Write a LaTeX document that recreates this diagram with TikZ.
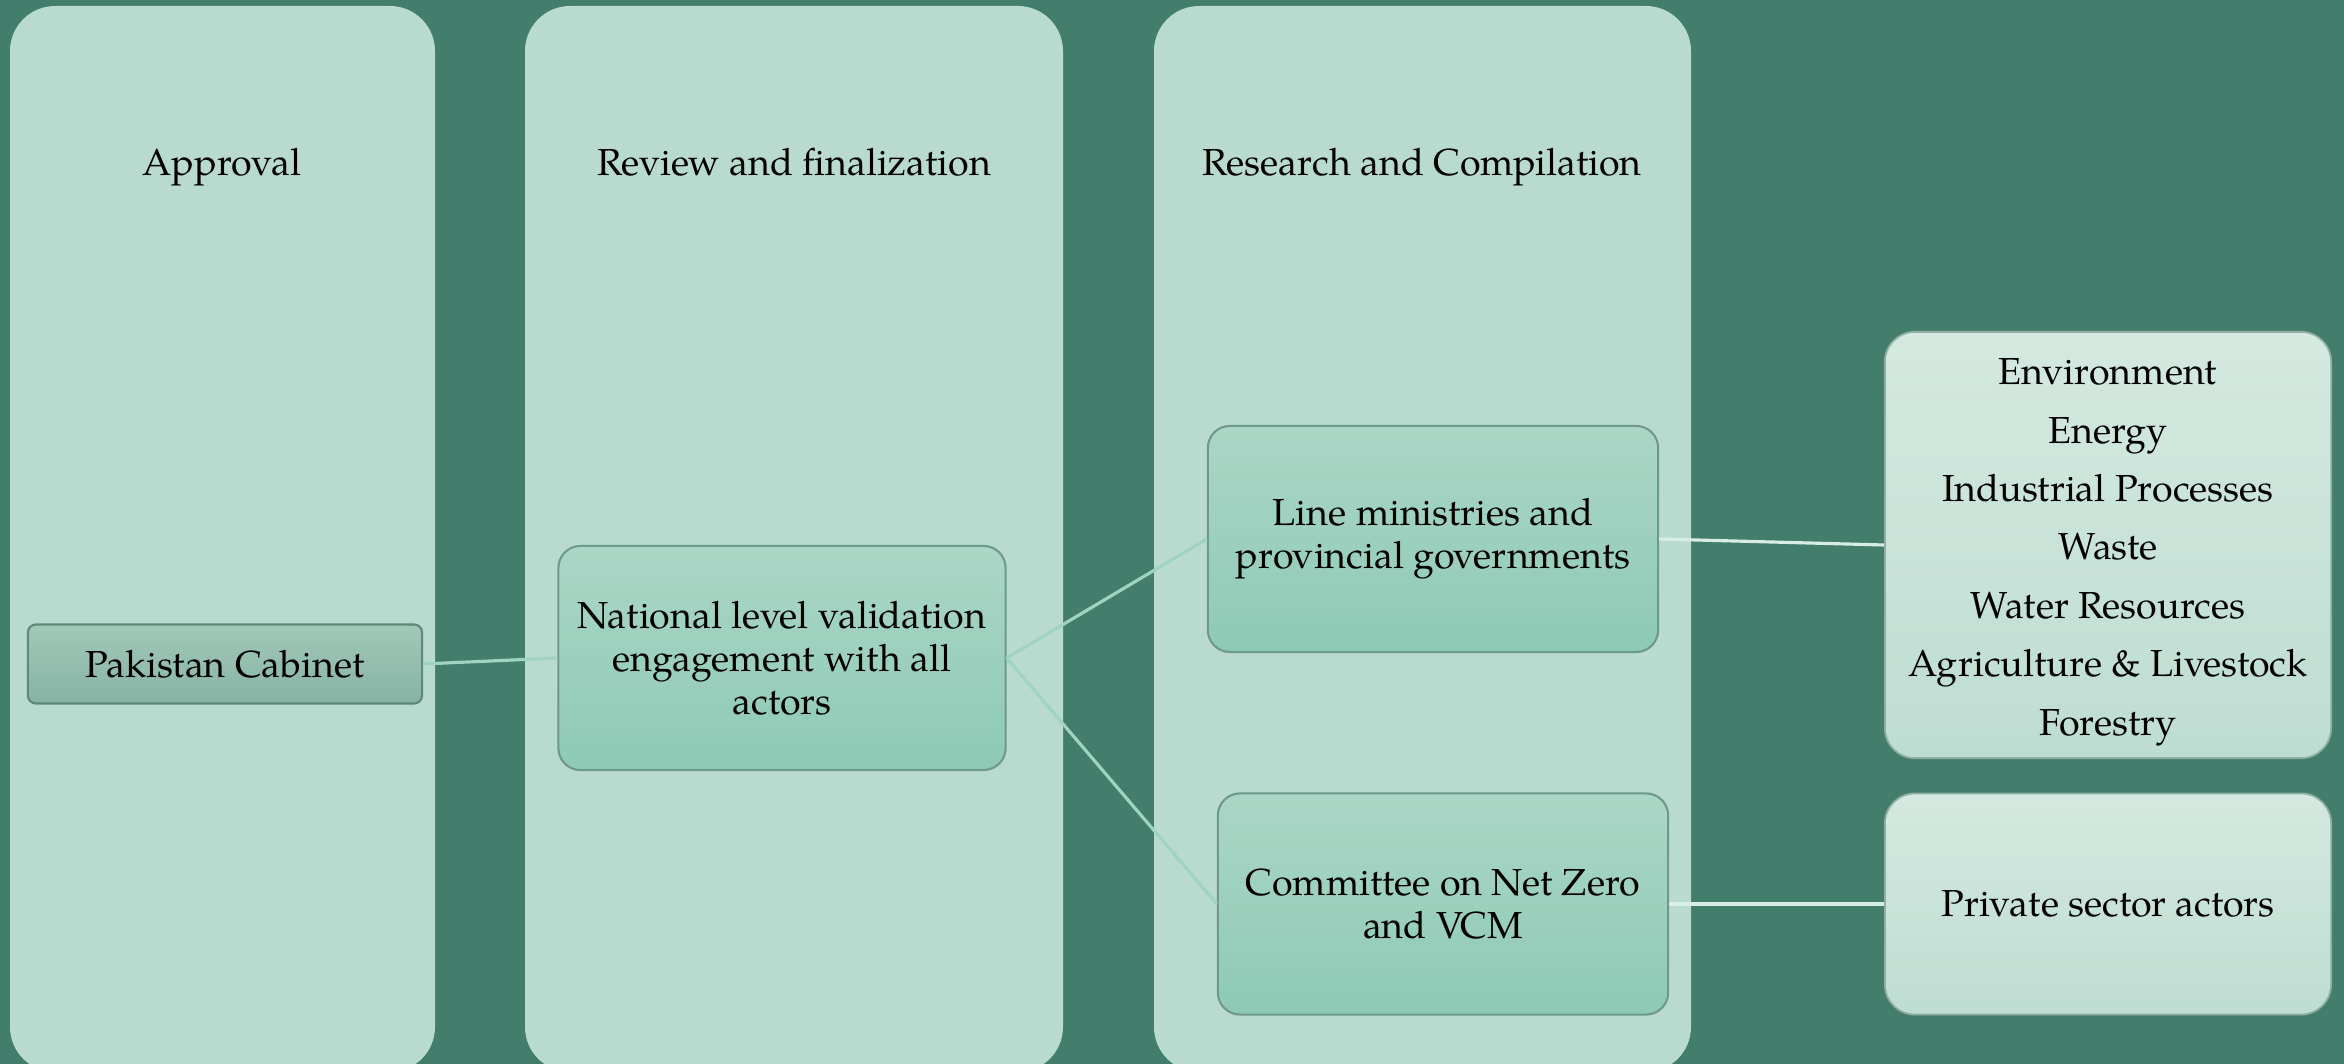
\documentclass[tikz,border=0pt]{standalone}
\usepackage{fontspec}
\setmainfont{TeX Gyre Pagella}
\usetikzlibrary{calc}
\definecolor{bgGreen}{HTML}{437D6C}
\definecolor{stageFill}{HTML}{B9DBCF}
\definecolor{boxTop}{HTML}{ABD6C6}
\definecolor{boxBot}{HTML}{8DCAB5}
\definecolor{boxLine}{HTML}{6F9A8A}
\definecolor{cabTop}{HTML}{A2C8B9}
\definecolor{cabBot}{HTML}{86B3A3}
\definecolor{cabLine}{HTML}{5F8878}
\definecolor{listTop}{HTML}{D4E9E0}
\definecolor{listBot}{HTML}{BEDDD2}
\definecolor{listLine}{HTML}{8FAFA3}
\definecolor{linkGreen}{HTML}{9FD3C2}
\definecolor{linkPale}{HTML}{D8EDE5}
\tikzset{
	stage/.style={fill=stageFill, rounded corners=0.45cm},
	head/.style={anchor=base, font=\fontsize{10.7}{12.3}\selectfont},
	cabbox/.style={draw=cabLine, line width=0.6pt, top color=cabTop, bottom color=cabBot,
		rounded corners=0.08cm, minimum width=3.94cm, minimum height=0.79cm,
		font=\fontsize{10.7}{12.3}\selectfont},
	midbox/.style={draw=boxLine, line width=0.6pt, top color=boxTop, bottom color=boxBot,
		rounded corners=0.22cm, align=center, minimum height=2.24cm,
		font=\fontsize{10.7}{12.3}\selectfont},
	listbox/.style={draw=listLine, line width=0.5pt, top color=listTop, bottom color=listBot,
		rounded corners=0.3cm, align=center, minimum width=4.46cm,
		font=\fontsize{10.7}{16.6}\selectfont},
	linkA/.style={draw=linkGreen, line width=0.9pt},
	linkB/.style={draw=linkPale, line width=0.9pt},
}
\begin{document}
\begin{tikzpicture}[x=0.01cm,y=-0.01cm]
\useasboundingbox (0,0) rectangle (2344,1064);
\fill[bgGreen] (0,0) rectangle (2344,1064);
% the three stages
\fill[stage] (10,6) rectangle (435,1072);
\fill[stage] (525,6) rectangle (1063,1072);
\fill[stage] (1154,6) rectangle (1691,1072);
\node[head] (approval) at (222,176) {Approval};
\node[head] (review) at (794,176) {Review and finalization};
\node[head] (research) at (1422,176) {Research and Compilation};
% boxes
\node[cabbox] (cabinet) at (225,664) {Pakistan Cabinet};
\node[midbox, minimum width=4.47cm] (national) at (782,658)
	{National level validation\\engagement with all\\actors};
\node[midbox, minimum width=4.50cm, minimum height=2.26cm] (line) at (1433,539)
	{Line ministries and\\provincial governments};
\node[midbox, minimum width=4.50cm, minimum height=2.21cm] (committee) at (1443,904)
	{Committee on Net Zero\\and VCM};
\node[listbox, minimum height=4.26cm] (sectors) at (2108,545)
	{\rule{0pt}{11.5pt}Environment\\Energy\\Industrial Processes\\Waste\\Water Resources\\Agriculture \& Livestock\\Forestry};
\node[listbox, minimum height=2.21cm] (private) at (2108,904) {Private sector actors};
% links
\draw[linkA] (cabinet.east) -- (national.west);
\draw[linkA] (national.east) -- (line.west);
\draw[linkA] (national.east) -- (committee.west);
\draw[linkB] (line.east) -- (sectors.west);
\draw[linkB] (committee.east) -- (private.west);
\end{tikzpicture}
\end{document}
